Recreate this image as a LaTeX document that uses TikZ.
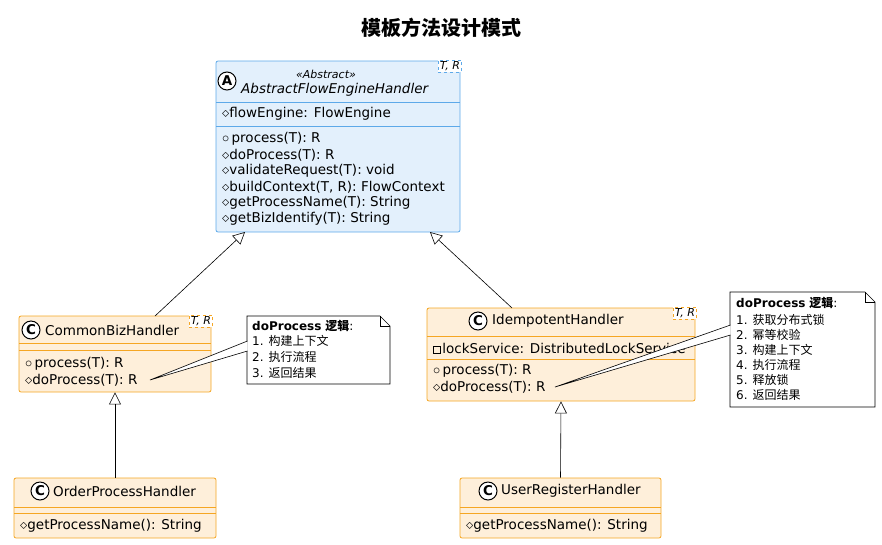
\documentclass[tikz,border=0pt]{standalone}
\usepackage{fontspec}
\setmainfont{DejaVu Sans}
\newfontfamily\cjk{Noto Sans CJK SC}
\usetikzlibrary{arrows.meta,shapes.misc}
\definecolor{absfill}{HTML}{E3F0FC}
\definecolor{absline}{HTML}{5DA9E9}
\definecolor{orfill}{HTML}{FEEFDA}
\definecolor{orline}{HTML}{F5A623}
\newcommand{\privsq}{\tikz[baseline=0pt]\draw[line width=0.5pt] (0,0) rectangle (6.5pt,6.5pt);\,}
\begin{document}
\begin{tikzpicture}[x=1pt,y=-1pt,
  every node/.style={inner sep=0pt,font=\fontsize{13.5}{15}\selectfont},
  absbox/.style={draw=absline,fill=absfill,rounded corners=2pt,line width=0.8pt},
  orbox/.style={draw=orline,fill=orfill,rounded corners=2pt,line width=0.8pt},
  tp/.style={draw,dashed,fill=white,inner sep=1.5pt,font=\fontsize{11}{12}\selectfont\itshape},
  mem/.style={anchor=west},
  icon/.style={circle,draw,line width=1pt,minimum size=18pt,font=\fontsize{13.5}{14}\selectfont\bfseries},
  inh/.style={-{Triangle[open,length=12pt,width=12pt]},line width=0.6pt},
  note/.style={draw,fill=white,line width=0.6pt},
  nt/.style={anchor=west,font=\fontsize{12}{14}\selectfont}]
\useasboundingbox (0,0) rectangle (882,544);
\node[font=\fontsize{20}{24}\selectfont\cjk\bfseries] (title) at (441,28) {模板方法设计模式};

% Abstract
\node[absbox,minimum width=244pt,minimum height=171pt] (abs) at (338,146.5) {};
\draw[absline,line width=0.8pt] (216,102) -- (460,102) (216,126) -- (460,126);
\node[icon,fill=white] (absi) at (227,81) {A};
\node[font=\fontsize{11}{12}\selectfont\itshape] (absst) at (326,74) {«Abstract»};
\node[mem,font=\fontsize{13.5}{15}\selectfont\itshape] (absn) at (241,90) {AbstractFlowEngineHandler};
\node[tp,draw=absline] (abst) at (450,66) {T, R};
\node[mem] (a0) at (222,114) {$\diamond$flowEngine: FlowEngine};
\node[mem] (a1) at (222,139) {$\circ$\,process(T): R};
\node[mem] (a2) at (222,155) {$\diamond$doProcess(T): R};
\node[mem] (a3) at (222,171) {$\diamond$validateRequest(T): void};
\node[mem] (a4) at (222,187) {$\diamond$buildContext(T, R): FlowContext};
\node[mem] (a5) at (222,203) {$\diamond$getProcessName(T): String};
\node[mem] (a6) at (222,219) {$\diamond$getBizIdentify(T): String};

% CommonBiz
\node[orbox,minimum width=192pt,minimum height=76pt] (cb) at (115,354) {};
\draw[orline,line width=0.8pt] (19,343) -- (211,343) (19,350) -- (211,350);
\node[icon,fill=white] (cbi) at (31,330) {C};
\node[mem] (cbn) at (45,330) {CommonBizHandler};
\node[tp,draw=orline] (cbt) at (201,321) {T, R};
\node[mem] (c1) at (25,364) {$\circ$\,process(T): R};
\node[mem] (c2) at (25,380) {$\diamond$doProcess(T): R};

% Idempotent
\node[orbox,minimum width=268pt,minimum height=93pt] (id) at (561,354.5) {};
\draw[orline,line width=0.8pt] (427,336) -- (695,336) (427,359) -- (695,359);
\node[icon,fill=white] (idi) at (478,321) {C};
\node[mem] (idn) at (492,321) {IdempotentHandler};
\node[tp,draw=orline] (idt) at (685,313) {T, R};
\node[mem] (i0) at (433,348) {\privsq lockService: DistributedLockService};
\node[mem] (i1) at (433,371) {$\circ$\,process(T): R};
\node[mem] (i2) at (433,387) {$\diamond$doProcess(T): R};

% Order
\node[orbox,minimum width=202pt,minimum height=60pt] (op) at (115,508) {};
\draw[orline,line width=0.8pt] (14,507) -- (216,507) (14,513) -- (216,513);
\node[icon,fill=white] (opi) at (40,491) {C};
\node[mem] (opn) at (53,491) {OrderProcessHandler};
\node[mem] (o1) at (20,526) {$\diamond$getProcessName(): String};

% User
\node[orbox,minimum width=201pt,minimum height=60pt] (ur) at (560.5,508) {};
\draw[orline,line width=0.8pt] (460,507) -- (661,507) (460,513) -- (661,513);
\node[icon,fill=white] (uri) at (488,491) {C};
\node[mem] (urn) at (501,491) {UserRegisterHandler};
\node[mem] (u1) at (466,526) {$\diamond$getProcessName(): String};

% inheritance
\coordinate (cbtop) at (155,316); \coordinate (abl) at (245,232);
\coordinate (idtop) at (512,308); \coordinate (abr) at (430,232);
\draw[inh] (cbtop) -- (abl);
\draw[inh] (idtop) -- (abr);
\draw[inh] (op.north) -- (cb.south);
\draw[inh] (ur.north) -- (id.south);

% notes
\coordinate (n1p) at (150,380);
\draw[note] (247,316) -- (380,316) -- (390,326) -- (390,384) -- (247,384) -- cycle;
\draw[line width=0.6pt] (380,316) -- (380,326) -- (390,326);
\draw[note] (247.5,341) -- (n1p) -- (247.5,351);
\node[nt] (n1a) at (252,326) {\textbf{doProcess} {\cjk\textbf{逻辑}}:};
\node[nt] (n1b) at (252,341) {1. {\cjk 构建上下文}};
\node[nt] (n1c) at (252,357) {2. {\cjk 执行流程}};
\node[nt] (n1d) at (252,373) {3. {\cjk 返回结果}};

\coordinate (n2p) at (555,387);
\draw[note] (730,292) -- (865,292) -- (875,302) -- (875,407) -- (730,407) -- cycle;
\draw[line width=0.6pt] (865,292) -- (865,302) -- (875,302);
\draw[note] (730.5,325) -- (n2p) -- (730.5,335);
\node[nt] (n2a) at (736,303) {\textbf{doProcess} {\cjk\textbf{逻辑}}:};
\node[nt] (n2b) at (736,320) {1. {\cjk 获取分布式锁}};
\node[nt] (n2c) at (736,335) {2. {\cjk 幂等校验}};
\node[nt] (n2d) at (736,350) {3. {\cjk 构建上下文}};
\node[nt] (n2e) at (736,365) {4. {\cjk 执行流程}};
\node[nt] (n2f) at (736,380) {5. {\cjk 释放锁}};
\node[nt] (n2g) at (736,395) {6. {\cjk 返回结果}};
\end{tikzpicture}
\end{document}
